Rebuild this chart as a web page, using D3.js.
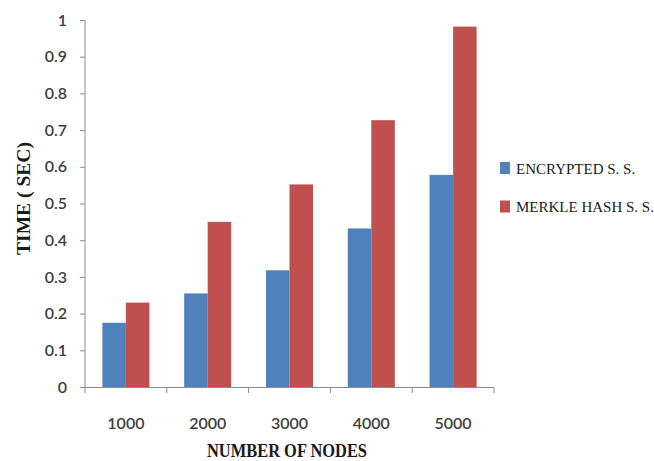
<!DOCTYPE html>
<html><head><meta charset="utf-8">
<script src="https://cdn.jsdelivr.net/npm/d3@7"></script>
<style>body{margin:0;background:#fff}svg{display:block}</style>
</head><body>
<svg id="c" width="654" height="461"></svg>
<script>
const categories = ["1000","2000","3000","4000","5000"];
const seriesNames = ["ENCRYPTED S. S.","MERKLE HASH S. S."];
const encrypted = [0.175, 0.255, 0.318, 0.432, 0.578];
const merkle = [0.23, 0.45, 0.552, 0.727, 0.982];
const yTicks = [0,0.1,0.2,0.3,0.4,0.5,0.6,0.7,0.8,0.9,1];
const colors = ["#4F81BD","#C0504D"];

const svg = d3.select("#c");
const L = 85, R = 494, T = 20, B = 387;
const y = d3.scaleLinear().domain([0,1]).range([B,T]);
const x0 = d3.scaleBand().domain(categories).range([L,R]).paddingInner(0.425).paddingOuter(0.2125);
const x1 = d3.scaleBand().domain(seriesNames).range([0,x0.bandwidth()]);
const data = categories.map((c,i)=>({c, vals:[encrypted[i], merkle[i]]}));

// bars
const g = svg.append("g");
data.forEach(d=>{
  d.vals.forEach((v,j)=>{
    g.append("rect")
      .attr("x", x0(d.c)+x1(seriesNames[j]))
      .attr("y", y(v))
      .attr("width", x1.bandwidth())
      .attr("height", y(0)-y(v))
      .attr("fill", colors[j]);
  });
});

// y axis
const axisColor = "#8c8c8c";
const tickFont = "Lato, 'Open Sans', sans-serif";
const yAxis = svg.append("g").attr("transform",`translate(${L},0)`)
  .call(d3.axisLeft(y).tickValues(yTicks).tickSize(5).tickPadding(13).tickFormat(d=>d3.format("")(+d.toFixed(1))));
yAxis.select(".domain").attr("stroke",axisColor).attr("d",`M0,${T}V${B}`);
yAxis.selectAll(".tick line").attr("stroke",axisColor);
yAxis.selectAll(".tick text").attr("fill","#404040").style("font-family",tickFont).style("font-size","16px").style("font-weight","600");

// x axis
const bounds = d3.range(categories.length+1).map(i=>L+i*(R-L)/categories.length);
const xg = svg.append("g");
xg.append("line").attr("x1",L).attr("x2",R).attr("y1",B+0.5).attr("y2",B+0.5).attr("stroke",axisColor);
bounds.forEach(b=>{
  xg.append("line").attr("x1",b).attr("x2",b).attr("y1",B).attr("y2",B+6).attr("stroke",axisColor);
});
categories.forEach(c=>{
  xg.append("text").attr("x",x0(c)+x0.bandwidth()/2).attr("y",429)
    .attr("text-anchor","middle").attr("fill","#404040")
    .style("font-family",tickFont).style("font-size","16px").style("font-weight","600")
    .text(c);
});

// axis titles
const serif = "'Liberation Serif','Times New Roman',serif";
svg.append("text").attr("x",207).attr("y",457)
  .attr("textLength",160).attr("lengthAdjust","spacingAndGlyphs")
  .style("font-family",serif).style("font-weight","bold").style("font-size","18px")
  .attr("fill","#1a1a1a").text("NUMBER OF NODES");
svg.append("text").attr("transform",`translate(30,255) rotate(-90)`)
  .attr("textLength",113).attr("lengthAdjust","spacingAndGlyphs")
  .style("font-family",serif).style("font-weight","bold").style("font-size","19px")
  .attr("fill","#1a1a1a").text("TIME ( SEC)");

// legend
const lg = svg.append("g");
seriesNames.forEach((s,j)=>{
  const cy = 168 + j*38.5;
  lg.append("rect").attr("x",500).attr("y",cy-6).attr("width",10).attr("height",12).attr("fill",colors[j]);
  lg.append("text").attr("x",516).attr("y",cy+5.5)
    .attr("fill","#1a1a1a")
    .style("font-family",serif).style("font-size","15px")
    .text(s);
});
</script>
</body></html>
